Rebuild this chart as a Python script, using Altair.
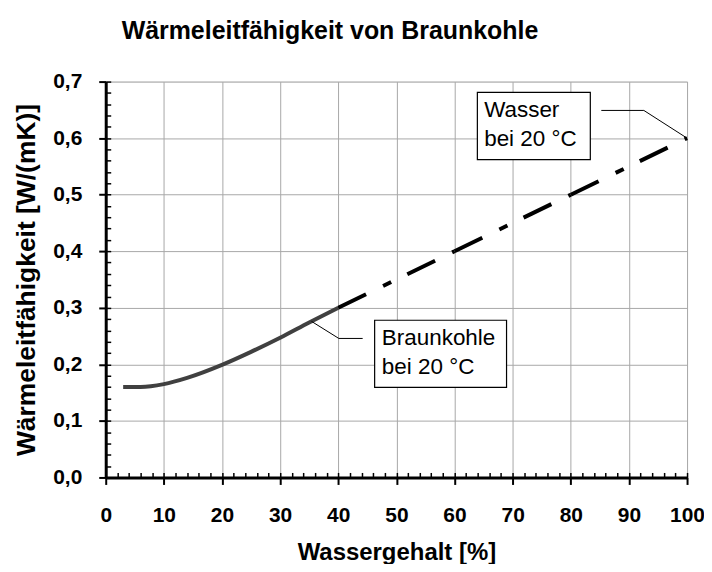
import altair as alt
import pandas as pd

# --- data ---
x_kohle = [3, 6, 10, 14, 20, 25, 30, 35, 40]
y_kohle = [0.160, 0.160, 0.165, 0.176, 0.199, 0.222, 0.247, 0.274, 0.300]
x_wasser = [40, 60, 80, 100]
y_wasser = [0.30, 0.40, 0.50, 0.60]

x_ticks = list(range(0, 101, 10))
x_minor = list(range(0, 101, 2))
y_ticks = [round(i * 0.1, 1) for i in range(0, 8)]
y_minor = [round(i * 0.02, 2) for i in range(0, 36)]

title_text = "Wärmeleitfähigkeit von Braunkohle"
x_title = "Wassergehalt [%]"
y_title = "Wärmeleitfähigkeit [W/(mK)]"

# annotation labels (positions in data units)
label_lines = ["Braunkohle", "bei 20 °C", "Wasser", "bei 20 °C"]
label_x = [47.5, 47.5, 65.1, 65.1]
label_y = [0.247, 0.195, 0.649, 0.598]
box_x = [46.26, 63.93]
box_x2 = [68.95, 83.36]
box_y = [0.278, 0.681]
box_y2 = [0.1594, 0.562]
leader_id = ["k", "k", "k", "w", "w", "w"]
leader_x = [35.4, 40.1, 44.2, 85.25, 92.57, 100]
leader_y = [0.276, 0.2458, 0.2458, 0.649, 0.649, 0.6]

FONT = "Liberation Sans"

df_k = pd.DataFrame({"x": x_kohle, "y": y_kohle})
seg_rows = []
for i in range(len(x_wasser) - 1):
    seg_rows.append({"x": x_wasser[i], "y": y_wasser[i], "seg": i})
    seg_rows.append({"x": x_wasser[i + 1], "y": y_wasser[i + 1], "seg": i})
df_w = pd.DataFrame(seg_rows)
df_lab = pd.DataFrame({"x": label_x, "y": label_y, "t": label_lines})
df_box = pd.DataFrame({"x": box_x, "x2": box_x2, "y": box_y, "y2": box_y2})
df_lead = pd.DataFrame({"x": leader_x, "y": leader_y, "id": leader_id})

xs = alt.Scale(domain=[0, 100], nice=False, zero=False)
ys = alt.Scale(domain=[0, 0.7], nice=False, zero=False)
ylabel_expr = "replace(format(datum.value, '.1f'), '.', ',')"

main = alt.Chart(df_k).mark_line(
    color="#404040", strokeWidth=4, interpolate="monotone"
).encode(
    x=alt.X("x:Q", scale=xs, axis=alt.Axis(
        orient="bottom", values=x_ticks, title=x_title, grid=True,
        gridColor="#a8a8a8", gridWidth=1, domainColor="black", domainWidth=3,
        tickColor="black", tickWidth=2, tickSize=7, labelFontSize=21,
        labelFont=FONT, labelFontWeight="bold", labelColor="black",
        labelPadding=20, titleFont=FONT, titleFontSize=24,
        titleFontWeight="bold", titleColor="black", titlePadding=15,
        labelFlush=False, labelOverlap=False)),
    y=alt.Y("y:Q", scale=ys, axis=alt.Axis(
        orient="left", values=y_ticks, title=y_title, grid=True,
        gridColor="#a8a8a8", gridWidth=1, domainColor="black", domainWidth=3,
        tickColor="black", tickWidth=2, tickSize=7, labelFontSize=21,
        labelFont=FONT, labelFontWeight="bold", labelColor="black",
        labelPadding=17, labelExpr=ylabel_expr, titleFont=FONT,
        titleFontSize=26.5, titleFontWeight="bold", titleColor="black",
        titlePadding=12, labelFlush=False, labelOverlap=False)),
)

minor = alt.Chart(df_k).mark_point(opacity=0).encode(
    x=alt.X("x:Q", scale=xs, axis=alt.Axis(
        orient="bottom", values=x_minor, labels=False, title=None, grid=False,
        domain=False, tickColor="black", tickWidth=1.5, tickSize=5, offset=-5)),
    y=alt.Y("y:Q", scale=ys, axis=alt.Axis(
        orient="left", values=y_minor, labels=False, title=None, grid=False,
        domain=False, tickColor="black", tickWidth=1.5, tickSize=5, offset=-5)),
)

dash = alt.Chart(df_w).mark_line(
    color="black", strokeWidth=4, strokeDash=[31, 19, 9, 18], strokeCap="butt"
).encode(
    x=alt.X("x:Q", scale=xs, axis=None),
    y=alt.Y("y:Q", scale=ys, axis=None),
    detail="seg:N",
)

leaders = alt.Chart(df_lead).mark_line(color="black", strokeWidth=1).encode(
    x=alt.X("x:Q", scale=xs, axis=None),
    y=alt.Y("y:Q", scale=ys, axis=None),
    detail="id:N",
)

boxes = alt.Chart(df_box).mark_rect(
    fill="white", stroke="black", strokeWidth=1.2
).encode(
    x=alt.X("x:Q", scale=xs, axis=None), x2="x2:Q",
    y=alt.Y("y:Q", scale=ys, axis=None), y2="y2:Q",
)

labels = alt.Chart(df_lab).mark_text(
    align="left", baseline="middle", font=FONT, fontSize=22.5, color="black"
).encode(
    x=alt.X("x:Q", scale=xs, axis=None),
    y=alt.Y("y:Q", scale=ys, axis=None),
    text="t:N",
)

chart = alt.layer(main, minor, dash, leaders, boxes, labels).resolve_axis(
    x="independent", y="independent"
).properties(
    width=583, height=397,
    title=alt.TitleParams(title_text, font=FONT, fontSize=25,
                          fontWeight="bold", color="black", anchor="start",
                          frame="group", dx=16, offset=27),
    autosize=alt.AutoSizeParams(type="none"),
    padding={"left": 98, "top": 73, "right": 17, "bottom": 86},
).configure_view(stroke="black", strokeWidth=3).configure(background="white")

chart.save("out.html", embed_options={"renderer": "svg", "actions": False})
